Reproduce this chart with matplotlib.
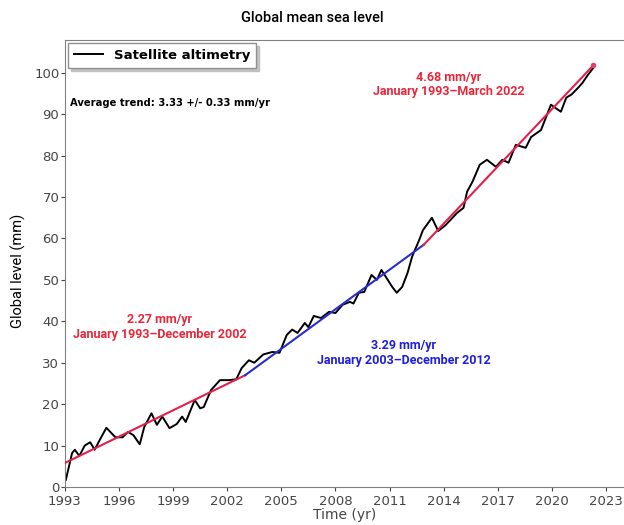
"""
Global mean sea level from satellite altimetry, with piecewise trend lines.
Saves out.png (624x525).
"""

import matplotlib.pyplot as plt

# Satellite altimetry record
years = [1993.05, 1993.4, 1993.55, 1993.8, 1994.1, 1994.4, 1994.65, 1994.95,
         1995.3, 1995.8, 1996.2, 1996.5, 1996.8, 1997.15, 1997.4, 1997.8,
         1998.1, 1998.4, 1998.8, 1999.2, 1999.5, 1999.7, 2000.2, 2000.5,
         2000.7, 2001.1, 2001.6, 2002.1, 2002.5, 2002.8, 2003.2, 2003.5,
         2004.0, 2004.5, 2004.9, 2005.3, 2005.6, 2005.9, 2006.3, 2006.5,
         2006.8, 2007.2, 2007.65, 2008.0, 2008.4, 2008.8, 2009.0, 2009.3,
         2009.6, 2010.0, 2010.3, 2010.55, 2010.8, 2011.15, 2011.4, 2011.7,
         2012.0, 2012.25, 2012.65, 2012.85, 2013.35, 2013.7, 2014.1, 2014.75,
         2015.1, 2015.3, 2015.6, 2016.0, 2016.4, 2016.9, 2017.25, 2017.6,
         2018.0, 2018.55, 2018.85, 2019.4, 2019.95, 2020.5, 2020.8, 2021.1,
         2021.5, 2021.7, 2022.0, 2022.3]
level_mm = [1.7, 8.2, 9.0, 7.5, 10.0, 10.8, 9.0, 11.5,
            14.3, 12.0, 12.0, 13.3, 12.5, 10.3, 14.5, 17.8,
            15.0, 17.0, 14.2, 15.2, 17.0, 15.7, 21.0, 19.0,
            19.3, 23.4, 25.8, 25.8, 26.0, 28.7, 30.6, 30.0,
            32.0, 32.6, 32.4, 36.7, 38.0, 37.2, 39.6, 38.6,
            41.3, 40.8, 42.3, 42.0, 44.0, 44.7, 44.3, 46.9,
            47.1, 51.2, 50.0, 52.4, 50.7, 48.3, 46.9, 48.3,
            51.7, 55.6, 59.7, 62.0, 65.0, 61.8, 63.2, 66.2,
            67.4, 71.3, 73.7, 77.8, 79.0, 77.3, 79.0, 78.3,
            82.6, 81.9, 84.5, 86.2, 92.3, 90.6, 94.0, 94.8,
            96.6, 97.6, 99.5, 101.2]

# Trend segments: (start year, end year), (start level, end level)
trend_early_x = [1993.0, 2003.0]
trend_early_y = [5.8, 27.0]
trend_mid_x = [2003.0, 2012.9]
trend_mid_y = [27.0, 58.5]
trend_late_x = [2012.9, 2022.3]
trend_late_y = [58.5, 101.8]

x_ticks = list(range(1993, 2024, 3))
y_ticks = list(range(0, 101, 10))

RED = "#e8283a"
BLUE = "#1f1fe0"
TICK_GREY = "#454545"

fig = plt.figure(figsize=(6.24, 5.25), dpi=100)
ax = fig.add_axes([0.104, 0.0724, 0.896, 0.852])

ax.plot(years, level_mm, color="black", lw=1.4, label="Satellite altimetry", zorder=2)
ax.plot(trend_early_x, trend_early_y, color="#e61e50", lw=1.5, zorder=3)
ax.plot(trend_mid_x, trend_mid_y, color="#2b2bd0", lw=1.5, zorder=3)
ax.plot(trend_late_x, trend_late_y, color="#e61e50", lw=1.5, zorder=3)
ax.plot(trend_late_x[-1], trend_late_y[-1], marker="o", ms=3, color="#e04070", zorder=4)

ax.set_xlim(1993, 2024)
ax.set_ylim(0, 108)
ax.set_xticks(x_ticks)
ax.set_yticks(y_ticks)
ax.tick_params(labelsize=9.5, colors=TICK_GREY, length=3, pad=1)
ax.tick_params(axis="x", pad=2.5)
for side in ["left", "top", "bottom"]:
    ax.spines[side].set_color("#808080")
ax.spines["right"].set_visible(False)

leg = ax.legend(loc="upper left", prop={"weight": "bold", "size": 9.5},
                fancybox=False, shadow={"color": "#c0c0c0", "alpha": 1},
                handlelength=2.2, borderaxespad=0.25, borderpad=0.45,
                edgecolor="#909090")

ax.text(0.009, 92.8, "Average trend: 3.33 +/- 0.33 mm/yr",
        transform=ax.get_yaxis_transform(), fontsize=7.2, fontweight="bold",
        ha="left", va="center")

ann_font = dict(family="Roboto", fontsize=9, fontweight="bold",
                ha="center", va="center", linespacing=1.15)
ax.text(2014.3, 97.2, "4.68 mm/yr\nJanuary 1993\u2013March 2022", color=RED, **ann_font)
ax.text(1998.25, 38.6, "2.27 mm/yr\nJanuary 1993\u2013December 2002", color=RED, **ann_font)
ax.text(2011.8, 32.4, "3.29 mm/yr\nJanuary 2003\u2013December 2012", color=BLUE, **ann_font)

fig.text(0.5, 0.965, "Global mean sea level", family="Roboto", fontsize=10.5,
         fontweight="medium", ha="center", va="center")
fig.text(0.029, 0.485, "Global level (mm)", family="Roboto", fontsize=10.5,
         rotation=90, ha="center", va="center")
ax.set_xlabel("Time (yr)", fontsize=10, color=TICK_GREY, labelpad=0)

fig.savefig("out.png", dpi=100)
plt.close(fig)
